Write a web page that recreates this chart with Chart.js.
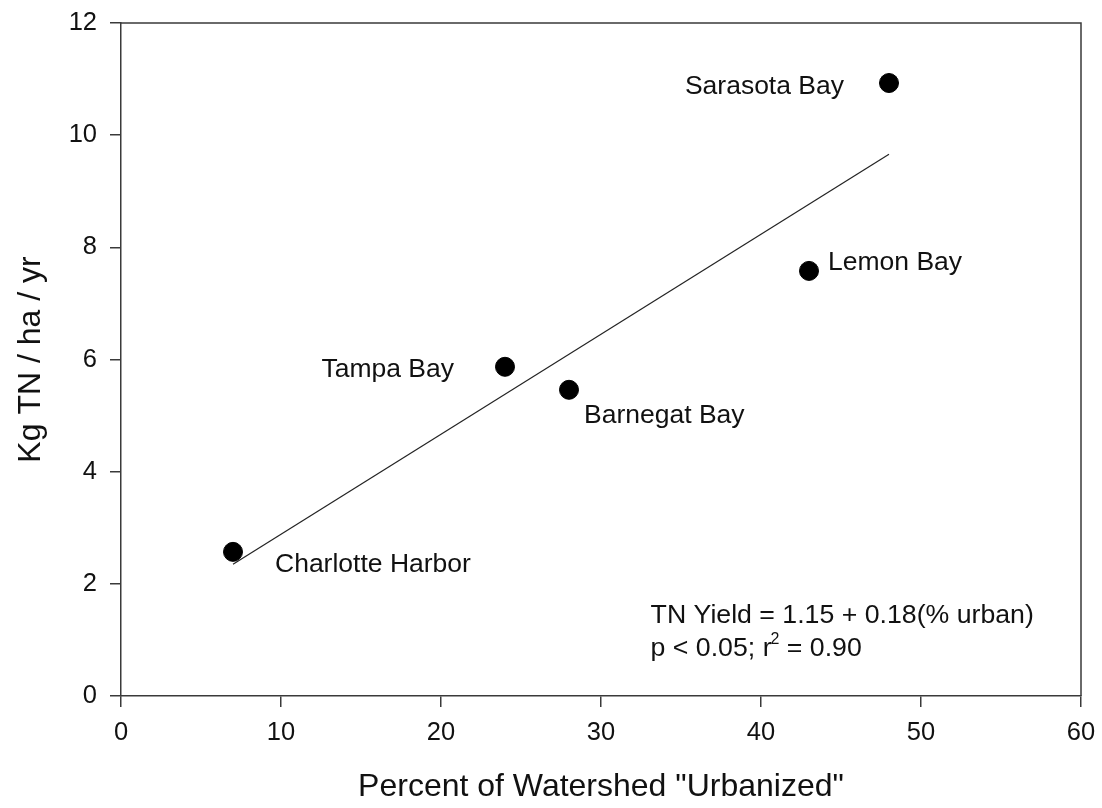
<!DOCTYPE html>
<html>
<head>
<meta charset="utf-8">
<script src="https://cdn.jsdelivr.net/npm/chart.js@4.4.1/dist/chart.umd.min.js"></script>
<style>
  html, body { margin: 0; padding: 0; background: #ffffff; }
  #wrap { width: 1102px; height: 808px; }
</style>
</head>
<body>
<div id="wrap"><canvas id="c" width="1102" height="808"></canvas></div>
<script>
// ---- data ----
const estuaries = ["Charlotte Harbor", "Tampa Bay", "Barnegat Bay", "Lemon Bay", "Sarasota Bay"];
const percentUrban = [7, 24, 28, 43, 48];
const tnYield = [2.57, 5.87, 5.46, 7.58, 10.93];
const fitX = [7, 48];
const fitY = [2.35, 9.66];
const xTicks = [0, 10, 20, 30, 40, 50, 60];
const yTicks = [0, 2, 4, 6, 8, 10, 12];
const xTitle = 'Percent of Watershed "Urbanized"';
const yTitle = 'Kg TN / ha / yr';
const equationLine = 'TN Yield = 1.15 + 0.18(% urban)';
const statsParts = ['p < 0.05; r', '2', ' = 0.90'];

// ---- label placement (pixels, relative to point) ----
const labelPlacement = {
  "Charlotte Harbor": { dx: 42, dy: 20, align: "left" },
  "Tampa Bay": { dx: -51, dy: 10, align: "right" },
  "Barnegat Bay": { dx: 15, dy: 33, align: "left" },
  "Lemon Bay": { dx: 19, dy: -1, align: "left" },
  "Sarasota Bay": { dx: -45, dy: 11, align: "right" }
};

const FONT = '"Liberation Sans", Arial, Helvetica, sans-serif';
const INK = '#111111';
const AXIS = '#3a3a3a';

const overlay = {
  id: 'overlay',
  afterDraw(chart) {
    const ctx = chart.ctx;
    const ca = chart.chartArea;
    const xs = chart.scales.x, ys = chart.scales.y;
    ctx.save();
    // frame top and right
    ctx.strokeStyle = AXIS;
    ctx.lineWidth = 1.5;
    ctx.beginPath();
    ctx.moveTo(ca.left, ca.top);
    ctx.lineTo(ca.right, ca.top);
    ctx.lineTo(ca.right, ca.bottom);
    ctx.stroke();

    // point labels
    ctx.fillStyle = INK;
    ctx.font = '26.5px ' + FONT;
    ctx.textBaseline = 'alphabetic';
    estuaries.forEach((name, i) => {
      const p = labelPlacement[name];
      const px = xs.getPixelForValue(percentUrban[i]);
      const py = ys.getPixelForValue(tnYield[i]);
      ctx.textAlign = p.align;
      ctx.fillText(name, px + p.dx, py + p.dy);
    });

    // regression annotation
    ctx.textAlign = 'left';
    const big = '26.7px ' + FONT;
    ctx.font = big;
    const ax = xs.getPixelForValue(33.1);
    const ay = ys.getPixelForValue(1.3);
    ctx.fillText(equationLine, ax, ay);
    let cx = ax;
    const ay2 = ay + 33;
    ctx.fillText(statsParts[0], cx, ay2);
    cx += ctx.measureText(statsParts[0]).width;
    ctx.font = '16px ' + FONT;
    ctx.fillText(statsParts[1], cx - 1, ay2 - 12);
    cx += ctx.measureText(statsParts[1]).width - 1;
    ctx.font = big;
    ctx.fillText(statsParts[2], cx, ay2);
    ctx.restore();
  }
};

new Chart(document.getElementById('c'), {
  type: 'scatter',
  data: {
    datasets: [
      {
        label: 'Regression',
        data: fitX.map((x, i) => ({ x: x, y: fitY[i] })),
        showLine: true,
        borderColor: '#222222',
        borderWidth: 1.2,
        pointRadius: 0,
        fill: false,
        order: 2
      },
      {
        label: 'Estuaries',
        data: percentUrban.map((x, i) => ({ x: x, y: tnYield[i] })),
        backgroundColor: '#000000',
        borderColor: '#000000',
        pointRadius: 9.5,
        pointHoverRadius: 9.5,
        order: 1
      }
    ]
  },
  options: {
    responsive: false,
    animation: false,
    devicePixelRatio: 1,
    layout: { padding: { left: 0, right: 21, top: 23, bottom: 0 } },
    plugins: {
      legend: { display: false },
      tooltip: { enabled: false },
      title: { display: false }
    },
    scales: {
      x: {
        type: 'linear',
        min: 0, max: 60,
        afterFit(s) { s.height = 112; s.paddingLeft = 0; s.paddingRight = 0; },
        afterBuildTicks(s) { s.ticks = xTicks.map(v => ({ value: v })); },
        border: { display: true, color: AXIS, width: 1.5 },
        grid: { drawOnChartArea: false, drawTicks: true, tickLength: 11, color: AXIS, lineWidth: 1.5 },
        ticks: { color: INK, font: { family: FONT, size: 25.5 }, padding: 11, maxRotation: 0 },
        title: { display: true, text: xTitle, color: INK, font: { family: FONT, size: 32 }, padding: { top: 0, bottom: 2 } }
      },
      y: {
        type: 'linear',
        min: 0, max: 12,
        afterFit(s) { s.width = 121; s.paddingTop = 0; s.paddingBottom = 0; },
        afterBuildTicks(s) { s.ticks = yTicks.map(v => ({ value: v })); },
        border: { display: true, color: AXIS, width: 1.5 },
        grid: { drawOnChartArea: false, drawTicks: true, tickLength: 11, color: AXIS, lineWidth: 1.5 },
        ticks: { color: INK, font: { family: FONT, size: 25.5 }, padding: 13 },
        title: { display: true, text: yTitle, color: INK, font: { family: FONT, size: 32 }, padding: { top: 12, bottom: 0 } }
      }
    }
  },
  plugins: [overlay]
});
</script>
</body>
</html>
